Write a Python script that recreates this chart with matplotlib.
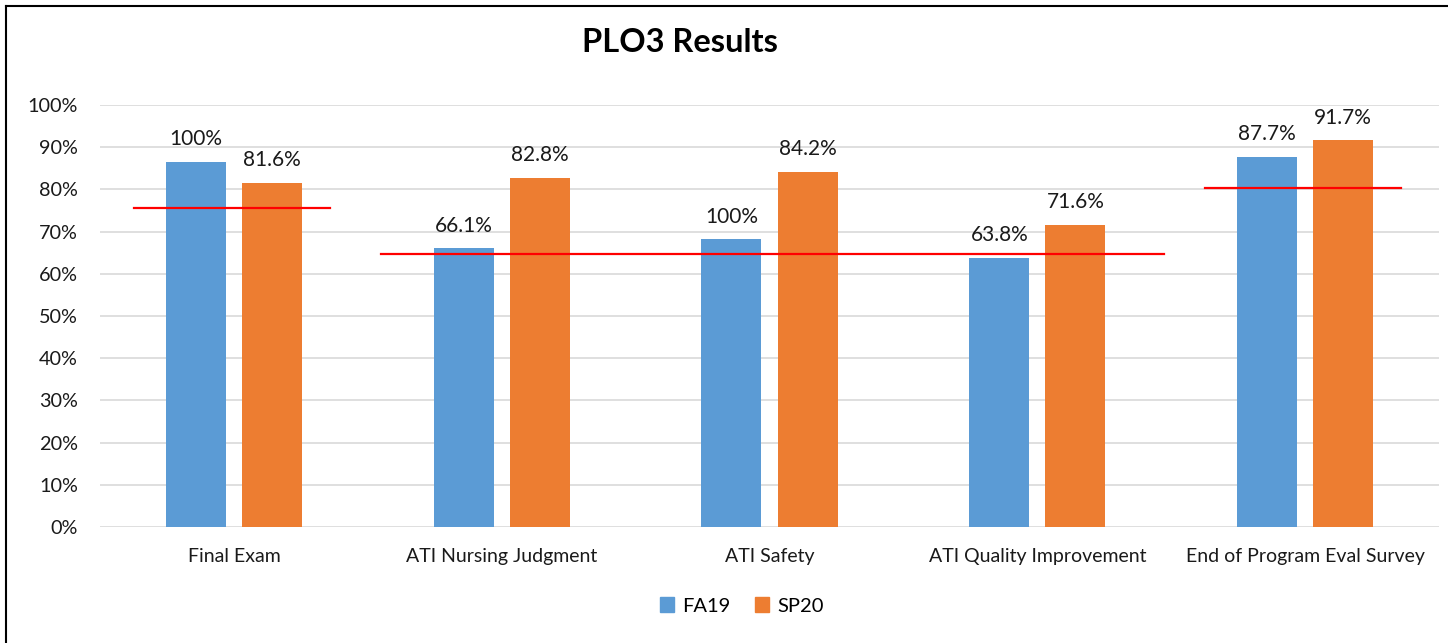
import matplotlib
matplotlib.use("Agg")
import matplotlib.pyplot as plt
from matplotlib.lines import Line2D
import numpy as np

plt.rcParams['font.family'] = ['Lato', 'DejaVu Sans']

categories = ["Final Exam", "ATI Nursing Judgment", "ATI Safety",
              "ATI Quality Improvement", "End of Program Eval Survey"]
fa19 = [86.5, 66.1, 68.2, 63.8, 87.7]
fa19_labels = ["100%", "66.1%", "100%", "63.8%", "87.7%"]
sp20 = [81.6, 82.8, 84.2, 71.6, 91.7]
sp20_labels = ["81.6%", "82.8%", "84.2%", "71.6%", "91.7%"]
# benchmark lines: (start category offset, end category offset, value)
bench_values = [75.6, 64.8, 80.4]
bench_spans = [(-0.373, 0.358), (1 - 0.45, 3 + 0.474), (4 - 0.373, 4 + 0.358)]

blue = "#5B9BD5"
orange = "#ED7D31"

fig = plt.figure(figsize=(14.48, 6.43), dpi=100)
ax = fig.add_axes([100/1448, 1 - 527/643, (1439-100)/1448, (527-105)/643])

x = np.arange(len(categories))
w = 0.224
off = 0.142
b1 = ax.bar(x - off, fa19, w, color=blue, zorder=2)
b2 = ax.bar(x + off, sp20, w, color=orange, zorder=2)

for rect, lab in zip(b1, fa19_labels):
    ax.annotate(lab, (rect.get_x() + rect.get_width()/2, rect.get_height()),
                xytext=(0, 9), textcoords="offset points", ha="center", va="bottom",
                fontsize=15, color="#1a1a1a")
for rect, lab in zip(b2, sp20_labels):
    ax.annotate(lab, (rect.get_x() + rect.get_width()/2, rect.get_height()),
                xytext=(0, 9), textcoords="offset points", ha="center", va="bottom",
                fontsize=15, color="#1a1a1a")

for (s, e), v in zip(bench_spans, bench_values):
    ax.plot([s, e], [v, v], color="#FF0000", lw=1.6, zorder=3)

ax.set_xlim(-0.5, len(categories) - 0.5)
ax.set_ylim(0, 100)
ax.set_yticks(np.arange(0, 101, 10))
ax.set_yticklabels([f"{v}%" for v in range(0, 101, 10)])
ax.set_xticks(x)
ax.set_xticklabels(categories)
ax.tick_params(axis='both', length=0, colors="#1a1a1a")
ax.tick_params(axis='x', pad=15, labelsize=14)
ax.tick_params(axis='y', pad=16, labelsize=14.3)
ax.grid(axis='y', color="#D9D9D9", lw=1.2, zorder=0)
ax.set_axisbelow(True)
for sp in ax.spines.values():
    sp.set_visible(False)

fig.text(680/1448, 1 - 42/643, "PLO3 Results", ha="center", va="center",
         fontsize=23.5, fontweight="bold", color="#000000")

handles = [plt.Rectangle((0, 0), 1, 1, color=blue), plt.Rectangle((0, 0), 1, 1, color=orange)]
fig.legend(handles, ["FA19", "SP20"], loc="center", bbox_to_anchor=(742/1448, 1 - 606/643),
           ncol=2, frameon=False, fontsize=14.5, handlelength=0.7, handleheight=0.7,
           handletextpad=0.4, columnspacing=1.2)

# border lines (top and left)
fig.add_artist(Line2D([6/1448, 1], [1 - 6/643, 1 - 6/643], color="black", lw=1.5,
                      transform=fig.transFigure))
fig.add_artist(Line2D([6/1448, 6/1448], [0, 1 - 6/643], color="black", lw=1.5,
                      transform=fig.transFigure))

fig.savefig("out.png", dpi=100)
